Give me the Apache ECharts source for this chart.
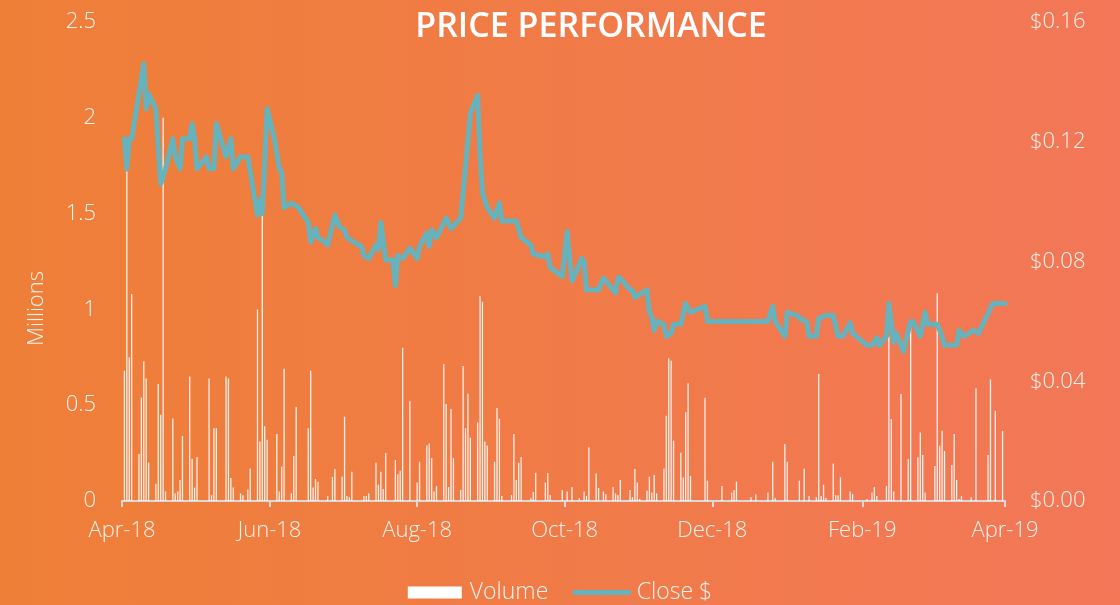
<!DOCTYPE html>
<html>
<head>
<meta charset="utf-8">
<script src="https://cdn.jsdelivr.net/npm/echarts@6/dist/echarts.min.js"></script>
<style>
html,body{margin:0;padding:0;}
#c{width:1120px;height:605px;}
</style>
</head>
<body>
<div id="c"></div>
<script>
const title = 'PRICE PERFORMANCE';
const volName = 'Volume';
const closeName = 'Close $';
const yLeftName = 'Millions';

const xTickDates = ['2018-04-01','2018-06-01','2018-08-01','2018-10-01','2018-12-01','2019-02-01','2019-04-01'];
const xTickLabels = ['Apr-18','Jun-18','Aug-18','Oct-18','Dec-18','Feb-19','Apr-19'];

const closeDates = [
'2018-04-02','2018-04-03','2018-04-04','2018-04-05','2018-04-10','2018-04-11','2018-04-12','2018-04-15','2018-04-17','2018-04-19',
'2018-04-22','2018-04-23','2018-04-25','2018-04-26','2018-04-29','2018-04-30','2018-05-01','2018-05-02','2018-05-06','2018-05-07',
'2018-05-09','2018-05-10','2018-05-14','2018-05-16','2018-05-17','2018-05-20','2018-05-23','2018-05-27','2018-05-28','2018-05-29',
'2018-05-31','2018-06-03','2018-06-05','2018-06-06','2018-06-07','2018-06-10','2018-06-13','2018-06-17','2018-06-18','2018-06-20',
'2018-06-21','2018-06-23','2018-06-25','2018-06-28','2018-06-30','2018-07-02','2018-07-03','2018-07-09','2018-07-10','2018-07-12',
'2018-07-15','2018-07-16','2018-07-17','2018-07-19','2018-07-22','2018-07-23','2018-07-24','2018-07-26','2018-07-29','2018-08-01',
'2018-08-02','2018-08-05','2018-08-06','2018-08-07','2018-08-09','2018-08-13','2018-08-15','2018-08-19','2018-08-20','2018-08-22',
'2018-08-23','2018-08-26','2018-08-27','2018-08-28','2018-08-30','2018-09-02','2018-09-04','2018-09-05','2018-09-11','2018-09-13',
'2018-09-17','2018-09-18','2018-09-23','2018-09-24','2018-09-25','2018-09-30','2018-10-02','2018-10-04','2018-10-06','2018-10-08',
'2018-10-09','2018-10-10','2018-10-15','2018-10-17','2018-10-22','2018-10-23','2018-10-24','2018-10-28','2018-10-29','2018-10-30',
'2018-11-04','2018-11-05','2018-11-06','2018-11-07','2018-11-08','2018-11-11','2018-11-12','2018-11-14','2018-11-15','2018-11-18',
'2018-11-20','2018-11-22','2018-11-28','2018-11-29','2018-12-24','2018-12-26','2018-12-27','2018-12-31','2019-01-01','2019-01-05',
'2019-01-07','2019-01-09','2019-01-10','2019-01-13','2019-01-14','2019-01-17','2019-01-20','2019-01-22','2019-01-24','2019-01-27',
'2019-01-28','2019-02-03','2019-02-05','2019-02-07','2019-02-08','2019-02-11','2019-02-12','2019-02-14','2019-02-15','2019-02-18',
'2019-02-21','2019-02-22','2019-02-25','2019-02-27','2019-02-28','2019-03-04','2019-03-06','2019-03-07','2019-03-12','2019-03-13',
'2019-03-15','2019-03-19','2019-03-21','2019-03-27','2019-03-28','2019-04-01'
];
const closeValues = [
0.121,0.111,0.121,0.121,0.146,0.131,0.136,0.131,0.106,0.111,
0.121,0.115,0.111,0.121,0.121,0.126,0.121,0.111,0.115,0.111,
0.111,0.126,0.115,0.121,0.111,0.115,0.115,0.0955,0.1005,0.096,
0.131,0.121,0.111,0.110,0.098,0.0995,0.098,0.093,0.0865,0.091,
0.088,0.087,0.0855,0.0955,0.0915,0.0905,0.088,0.085,0.082,0.081,
0.0855,0.084,0.093,0.0805,0.0805,0.072,0.082,0.081,0.0845,0.081,
0.085,0.0895,0.085,0.0905,0.088,0.0945,0.091,0.0945,0.103,0.1205,
0.1295,0.1355,0.116,0.103,0.098,0.0945,0.0995,0.0935,0.0935,0.088,
0.0855,0.0825,0.0815,0.0825,0.078,0.075,0.090,0.0735,0.077,0.081,
0.080,0.0705,0.0705,0.0745,0.0695,0.0745,0.0745,0.0705,0.0705,0.068,
0.0705,0.063,0.0615,0.057,0.060,0.059,0.055,0.056,0.059,0.059,
0.066,0.063,0.065,0.060,0.060,0.065,0.060,0.055,0.063,0.062,
0.0605,0.060,0.055,0.055,0.061,0.062,0.062,0.055,0.055,0.0595,
0.056,0.052,0.052,0.0545,0.052,0.055,0.066,0.053,0.056,0.050,
0.060,0.060,0.055,0.063,0.059,0.059,0.055,0.052,0.052,0.057,
0.055,0.057,0.056,0.066,0.066,0.066
];

const volDates = [
'2018-04-02','2018-04-03','2018-04-04','2018-04-05','2018-04-08','2018-04-09','2018-04-10','2018-04-11','2018-04-12','2018-04-15',
'2018-04-16','2018-04-17','2018-04-18','2018-04-19','2018-04-22','2018-04-23','2018-04-24','2018-04-25','2018-04-26','2018-04-29',
'2018-04-30','2018-05-01','2018-05-02','2018-05-07','2018-05-08','2018-05-09','2018-05-10','2018-05-14','2018-05-15','2018-05-16',
'2018-05-17','2018-05-20','2018-05-21','2018-05-23','2018-05-24','2018-05-27','2018-05-28','2018-05-29','2018-05-30','2018-05-31',
'2018-06-04','2018-06-05','2018-06-06','2018-06-07','2018-06-10','2018-06-11','2018-06-12','2018-06-17','2018-06-18','2018-06-19',
'2018-06-20','2018-06-21','2018-06-25','2018-06-27','2018-06-28','2018-07-01','2018-07-02','2018-07-03','2018-07-04','2018-07-05',
'2018-07-10','2018-07-11','2018-07-12','2018-07-15','2018-07-16','2018-07-17','2018-07-18','2018-07-19','2018-07-23','2018-07-24',
'2018-07-25','2018-07-26','2018-07-29','2018-08-01','2018-08-02','2018-08-05','2018-08-06','2018-08-07','2018-08-08','2018-08-09',
'2018-08-12','2018-08-13','2018-08-14','2018-08-15','2018-08-16','2018-08-19','2018-08-20','2018-08-21','2018-08-22','2018-08-23',
'2018-08-26','2018-08-27','2018-08-28','2018-08-29','2018-08-30','2018-09-02','2018-09-03','2018-09-04','2018-09-05','2018-09-09',
'2018-09-10','2018-09-11','2018-09-12','2018-09-13','2018-09-17','2018-09-18','2018-09-19','2018-09-23','2018-09-24','2018-09-25',
'2018-09-30','2018-10-02','2018-10-04','2018-10-07','2018-10-09','2018-10-10','2018-10-11','2018-10-14','2018-10-15','2018-10-17',
'2018-10-18','2018-10-21','2018-10-22','2018-10-23','2018-10-24','2018-10-28','2018-10-29','2018-10-30','2018-10-31','2018-11-01',
'2018-11-04','2018-11-05','2018-11-06','2018-11-07','2018-11-08','2018-11-11','2018-11-12','2018-11-13','2018-11-14','2018-11-15',
'2018-11-18','2018-11-19','2018-11-20','2018-11-21','2018-11-22','2018-11-28','2018-11-29','2018-12-05','2018-12-09','2018-12-10',
'2018-12-11','2018-12-17','2018-12-19','2018-12-24','2018-12-26','2018-12-27','2018-12-31','2019-01-01','2019-01-06','2019-01-08',
'2019-01-10','2019-01-13','2019-01-14','2019-01-15','2019-01-16','2019-01-17','2019-01-20','2019-01-21','2019-01-22','2019-01-23',
'2019-01-27','2019-01-28','2019-02-03','2019-02-05','2019-02-06','2019-02-07','2019-02-11','2019-02-12','2019-02-13','2019-02-14',
'2019-02-17','2019-02-20','2019-02-21','2019-02-24','2019-02-25','2019-02-26','2019-02-27','2019-03-03','2019-03-04','2019-03-05',
'2019-03-06','2019-03-07','2019-03-10','2019-03-11','2019-03-12','2019-03-13','2019-03-14','2019-03-18','2019-03-20','2019-03-25',
'2019-03-26','2019-03-28','2019-03-31'
];
const volValues = [
0.68,1.72,0.75,1.08,0.245,0.54,0.73,0.64,0.20,0.09,
0.61,0.45,2.0,0.05,0.43,0.04,0.05,0.11,0.34,0.65,
0.22,0.07,0.23,0.64,0.03,0.38,0.38,0.65,0.64,0.12,
0.07,0.04,0.03,0.06,0.17,1.0,0.31,1.5,0.39,0.32,
0.35,0.05,0.18,0.69,0.04,0.235,0.49,0.38,0.68,0.07,
0.115,0.10,0.026,0.125,0.167,0.127,0.44,0.026,0.02,0.153,
0.026,0.026,0.04,0.20,0.085,0.153,0.063,0.25,0.214,0.14,
0.158,0.80,0.52,0.096,0.205,0.29,0.30,0.224,0.05,0.078,
0.715,0.506,0.073,0.48,0.224,0.057,0.705,0.38,0.56,0.33,
0.41,1.07,1.04,0.31,0.29,0.205,0.485,0.43,0.026,0.031,
0.35,0.11,0.20,0.23,0.016,0.047,0.148,0.096,0.146,0.031,
0.057,0.049,0.073,0.016,0.049,0.026,0.28,0.144,0.068,0.049,
0.037,0.073,0.04,0.031,0.11,0.057,0.02,0.167,0.096,0.01,
0.054,0.127,0.044,0.136,0.04,0.17,0.445,0.745,0.732,0.315,
0.252,0.122,0.463,0.614,0.13,0.539,0.106,0.078,0.044,0.057,
0.101,0.02,0.035,0.044,0.205,0.016,0.297,0.205,0.106,0.17,
0.026,0.02,0.663,0.026,0.085,0.016,0.196,0.03,0.03,0.124,
0.049,0.037,0.01,0.044,0.073,0.026,0.078,0.858,0.428,0.049,
0.558,0.219,0.91,0.228,0.357,0.24,0.044,0.183,1.084,0.289,
0.367,0.261,0.188,0.35,0.11,0.01,0.026,0.02,0.588,0.24,
0.635,0.471,0.365
];

const labelColor = '#F8F3EF';
const font = 'Open Sans';
const lineColor = '#66B3BD';

const chart = echarts.init(document.getElementById('c'), null, {renderer: 'canvas'});

const toTime = d => +echarts.time.parse(d);
const tickTimes = xTickDates.map(toTime);

chart.setOption({
  backgroundColor: new echarts.graphic.LinearGradient(0, 0, 1, 0, [
    {offset: 0, color: '#EE7F37'},
    {offset: 1, color: '#F37758'}
  ]),
  animation: false,
  textStyle: {fontFamily: font},
  title: {
    text: title,
    left: 586, top: 5, textAlign: 'center',
    textStyle: {color: '#FFFFFF', fontSize: 34, fontWeight: 600, fontFamily: 'Open Sans'}
  },
  graphic: [{
    type: 'text', left: 26, top: 271, rotation: Math.PI / 2,
    style: {text: yLeftName, fill: labelColor, fontSize: 22, fontWeight: 300, fontFamily: font}
  }],
  legend: {
    top: 576, left: 'center',
    itemGap: 24,
    itemWidth: 54, itemHeight: 12,
    textStyle: {color: labelColor, fontSize: 23, fontWeight: 300, fontFamily: font, padding: [0, 0, 0, 3]},
    data: [
      {name: volName, icon: 'rect', itemStyle: {color: '#FFFFFF'}},
      {name: closeName, itemStyle: {opacity: 0}, lineStyle: {width: 5, cap: 'round', color: lineColor}}
    ]
  },
  grid: {left: 122, right: 115, top: 22, bottom: 104, containLabel: false},
  xAxis: {
    type: 'value',
    min: tickTimes[0],
    max: tickTimes[tickTimes.length - 1],
    splitLine: {show: false},
    axisLine: {show: true, onZero: false, lineStyle: {color: '#D9D9D9', width: 2}},
    axisTick: {show: true, customValues: tickTimes, length: 6, lineStyle: {color: '#D9D9D9', width: 2}},
    axisLabel: {
      customValues: tickTimes,
      color: labelColor, fontSize: 22, fontWeight: 300, fontFamily: font, margin: 19,
      formatter: function (v) {
        const i = tickTimes.indexOf(+v);
        return i >= 0 ? xTickLabels[i] : '';
      }
    }
  },
  yAxis: [
    {
      type: 'value', min: 0, max: 2.5, interval: 0.5,
      axisLine: {show: false}, axisTick: {show: false}, splitLine: {show: false},
      axisLabel: {color: labelColor, fontSize: 22, fontWeight: 300, fontFamily: font, margin: 26}
    },
    {
      type: 'value', min: 0, max: 0.16, interval: 0.04, position: 'right',
      axisLine: {show: false}, axisTick: {show: false}, splitLine: {show: false},
      axisLabel: {color: labelColor, fontSize: 22, fontWeight: 300, fontFamily: font, margin: 25,
        formatter: v => '$' + v.toFixed(2)}
    }
  ],
  series: [
    {
      name: volName, type: 'bar', yAxisIndex: 0, barWidth: 1.3,
      itemStyle: {color: 'rgba(255,255,255,0.88)'},
      data: volDates.map((d, i) => [toTime(d), volValues[i]]),
      z: 2
    },
    {
      name: closeName, type: 'line', yAxisIndex: 1,
      showSymbol: false, symbol: 'none',
      lineStyle: {color: lineColor, width: 5, join: 'round', cap: 'round'},
      itemStyle: {color: lineColor},
      data: closeDates.map((d, i) => [toTime(d), closeValues[i]]),
      z: 3
    }
  ]
});
</script>
</body>
</html>
